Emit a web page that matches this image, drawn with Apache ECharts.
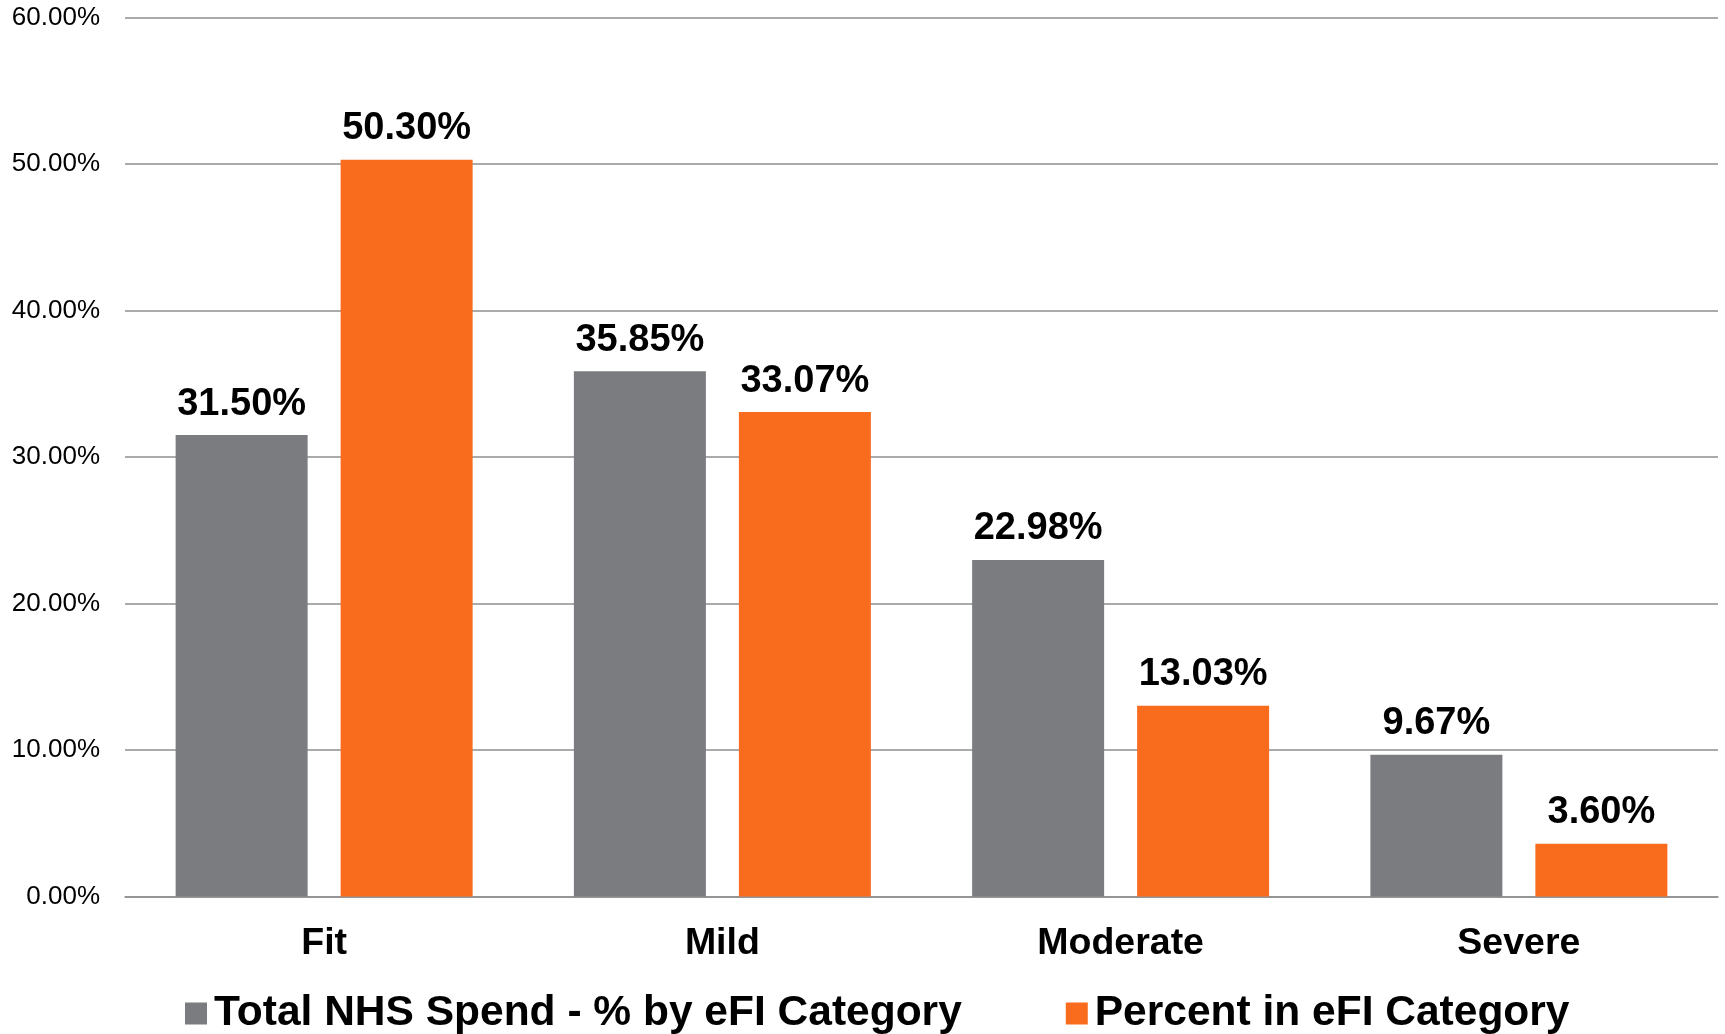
<!DOCTYPE html>
<html>
<head>
<meta charset="utf-8">
<script src="https://cdn.jsdelivr.net/npm/echarts@6/dist/echarts.min.js"></script>
<style>
html,body{margin:0;padding:0;background:#fff;}
#chart{width:1725px;height:1034px;}
</style>
</head>
<body>
<div id="chart"></div>
<script>
var categories = ['Fit', 'Mild', 'Moderate', 'Severe'];
var seriesNames = ['Total NHS Spend - % by eFI Category', 'Percent in eFI Category'];
var spendValues = [31.50, 35.85, 22.98, 9.67];
var percentValues = [50.30, 33.07, 13.03, 3.60];
var yTicks = { min: 0, max: 60, interval: 10 };

var FONT = '"Liberation Sans", Arial, Helvetica, sans-serif';
var chart = echarts.init(document.getElementById('chart'));
function pct(v) { return Number(v).toFixed(2) + '%'; }
var labelCfg = {
  show: true, position: 'top', distance: 12,
  fontFamily: FONT, fontWeight: 'bold', fontSize: 38, color: '#000',
  formatter: function (p) { return pct(p.value); }
};
chart.setOption({
  animation: false,
  backgroundColor: '#fff',
  grid: { left: 125, right: 7, top: 17.6, bottom: 137.5, containLabel: false },
  legend: {
    left: 180, top: 987,
    itemWidth: 22, itemHeight: 22, itemGap: 104,
    icon: 'rect',
    textStyle: { fontFamily: FONT, fontWeight: 'bold', fontSize: 42.5, color: '#000', padding: [0, 0, 0, 2] },
    data: seriesNames
  },
  xAxis: {
    type: 'category', data: categories,
    axisLine: { show: true, lineStyle: { color: '#8e8e8e', width: 1.5 } },
    axisTick: { show: false },
    axisLabel: { fontFamily: FONT, fontWeight: 'bold', fontSize: 37.5, color: '#000', margin: 28 }
  },
  yAxis: {
    type: 'value', min: yTicks.min, max: yTicks.max, interval: yTicks.interval,
    axisLine: { show: false }, axisTick: { show: false },
    splitLine: { lineStyle: { color: '#8e8e8e', width: 1.5 } },
    axisLabel: { fontFamily: FONT, fontSize: 26, color: '#000', margin: 25, formatter: pct }
  },
  series: [
    { name: seriesNames[0], type: 'bar', data: spendValues, barWidth: 132, barGap: '25%',
      itemStyle: { color: '#7b7c80' }, label: labelCfg },
    { name: seriesNames[1], type: 'bar', data: percentValues, barWidth: 132, barGap: '25%',
      itemStyle: { color: '#f96b1d' }, label: labelCfg }
  ]
});
</script>
</body>
</html>
